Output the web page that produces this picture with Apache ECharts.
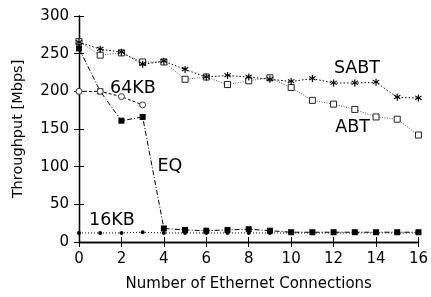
<!DOCTYPE html>
<html><head><meta charset="utf-8">
<script src="https://cdn.jsdelivr.net/npm/echarts@6/dist/echarts.min.js"></script>
<style>html,body{margin:0;padding:0;background:#fff}#c{width:431px;height:297px}</style>
</head><body><div id="c"></div>
<script>
const xs = [0,1,2,3,4,5,6,7,8,9,10,11,12,13,14,15,16];
const sabt = [265,256,252,236,240,229,219,221,219,216,213,217,211,211,212,192,191];
const abt  = [266,248,251,239,239,216,219,209,214,218,205,188,183,176,166,163,142];
const kb64 = [200,200,193,182];
const eq   = [257,200,161,166,18,16,15,16,17,15,13,13,13,13,13,13,13];
const kb16 = [12,12,12,13,12,12,12,12,12,12,12,12,12,12,12,12,12];
const xTicks = [0,2,4,6,8,10,12,14,16];
const yTicks = [0,50,100,150,200,250,300];
const labels = [
  {text:'SABT', x:13.1, y:231},
  {text:'ABT', x:12.9, y:152},
  {text:'64KB', x:2.54, y:204},
  {text:'EQ', x:4.28, y:100},
  {text:'16KB', x:1.55, y:29}
];
const font = '"DejaVu Sans", sans-serif';
const pair = (a) => a.map((v,i)=>[xs[i],v]);
const star = 'path://M-0.6,-4L0.6,-4L0.6,-1.3L2.8,-3L3.5,-2L1.3,-0.4L3.5,1.3L2.8,2.3L0.6,0.6L0.6,4L-0.6,4L-0.6,0.6L-2.8,2.3L-3.5,1.3L-1.3,-0.4L-3.5,-2L-2.8,-3L-0.6,-1.3Z';
const chart = echarts.init(document.getElementById('c'), null, {renderer:'canvas'});
const axisLine = {show:true, lineStyle:{color:'#000', width:1.3}};
const tick = {show:true, inside:true, length:5, lineStyle:{color:'#000', width:1}};
const lbl = {color:'#000', fontSize:15, fontFamily:font};
chart.setOption({
  animation:false,
  grid:{left:79, right:11, top:16, bottom:54},
  xAxis:[
    {type:'value', min:0, max:16, interval:2, axisLine, axisTick:tick, splitLine:{show:false},
     axisLabel:{...lbl, margin:10, formatter:(v)=>xTicks.includes(v)?String(v):''},
     name:'Number of Ethernet Connections', nameLocation:'middle', nameGap:35,
     nameTextStyle:{color:'#000', fontSize:15, fontFamily:font}},
    {type:'value', position:'top', min:0, max:16, interval:2, axisLine, axisTick:tick, axisLabel:{show:false}, splitLine:{show:false}}
  ],
  yAxis:[
    {type:'value', min:0, max:300, interval:50, axisLine, axisTick:tick, splitLine:{show:false},
     axisLabel:{...lbl, margin:10, formatter:(v)=>yTicks.includes(v)?String(v):''},
     name:'Throughput [Mbps]', nameLocation:'middle', nameGap:53, nameRotate:90,
     nameTextStyle:{color:'#000', fontSize:14.5, fontFamily:font}},
    {type:'value', position:'right', min:0, max:300, interval:50, axisLine, axisTick:tick, axisLabel:{show:false}, splitLine:{show:false}}
  ],
  series:[
    {name:'16KB', type:'line', data:pair(kb16), symbol:'circle', symbolSize:4,
     itemStyle:{color:'#000'}, lineStyle:{color:'#000', width:1, type:[1,2]}, z:2},
    {name:'EQ', type:'line', data:pair(eq), symbol:'rect', symbolSize:6,
     itemStyle:{color:'#000'}, lineStyle:{color:'#000', width:1, type:[5,2,1,2]}, z:3},
    {name:'64KB', type:'line', data:pair(kb64), symbol:'circle', symbolSize:6,
     itemStyle:{color:'#fff', borderColor:'#333', borderWidth:1}, lineStyle:{color:'#000', width:1, type:[3,2]}, z:3},
    {name:'ABT', type:'line', data:pair(abt), symbol:'rect', symbolSize:6,
     itemStyle:{color:'#fff', borderColor:'#222', borderWidth:1}, lineStyle:{color:'#555', width:1, type:[1,1.5]}, z:4},
    {name:'SABT', type:'line', data:pair(sabt), symbol:star, symbolSize:7,
     itemStyle:{color:'#000'}, lineStyle:{color:'#000', width:1, type:[1.5,2]}, z:5}
  ]
});
chart.setOption({
  graphic: labels.map(l => {
    const p = chart.convertToPixel({xAxisIndex:0, yAxisIndex:0}, [l.x, l.y]);
    return {type:'text', x:p[0], y:p[1], style:{text:l.text, fill:'#000', font:'17.5px '+font, textAlign:'center', textVerticalAlign:'middle'}};
  })
});
</script></body></html>
